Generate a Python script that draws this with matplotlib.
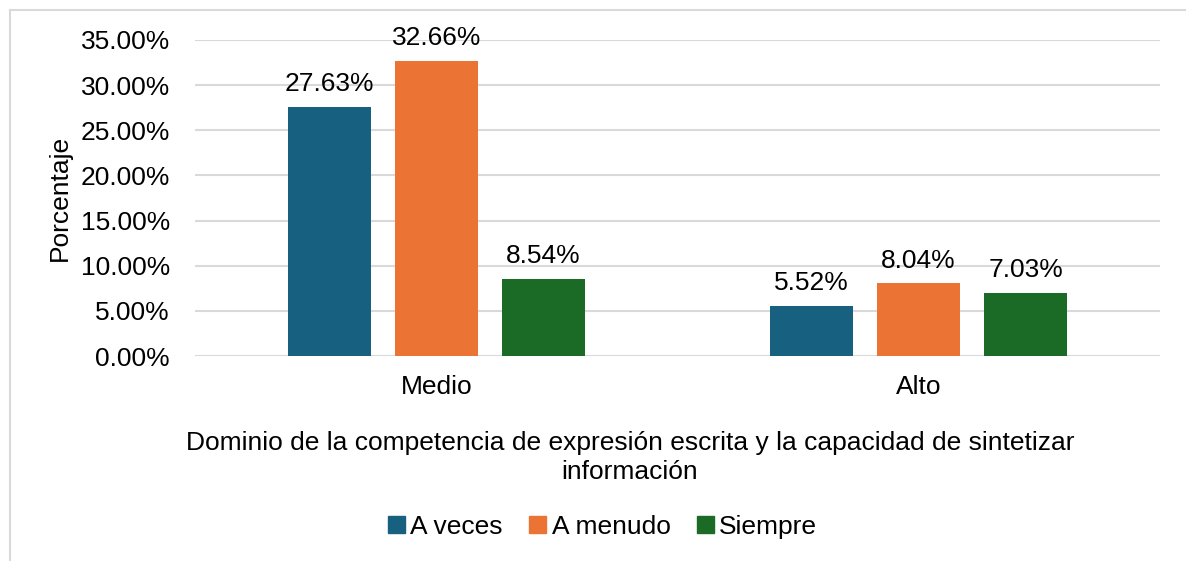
import matplotlib
matplotlib.use("Agg")
import numpy as np
from matplotlib import pyplot as plt
from matplotlib.lines import Line2D
from matplotlib.patches import Patch

categories = ["Medio", "Alto"]
series_names = ["A veces", "A menudo", "Siempre"]
a_veces = [27.63, 5.52]
a_menudo = [32.66, 8.04]
siempre = [8.54, 7.03]
yticks = [0, 5, 10, 15, 20, 25, 30, 35]

colors = ["#17607f", "#eb7333", "#1b6b27"]
fs = 19

plt.rcParams['font.family'] = ['Liberation Sans', 'DejaVu Sans']

fig = plt.figure(figsize=(11.86, 5.61), dpi=100)
ax = fig.add_axes([0.1644, 0.3654, 0.8136, 0.5633])

x = np.arange(len(categories))
w = 0.172
gap = 0.222
for i, (vals, name) in enumerate(zip([a_veces, a_menudo, siempre], series_names)):
    pos = x + (i - 1) * gap
    ax.bar(pos, vals, width=w, color=colors[i], zorder=3, label=name)
    for p, v in zip(pos, vals):
        ax.text(p, v + 1.2, "%.2f%%" % v, ha="center", va="bottom", fontsize=fs, color="#000000")

ax.set_xlim(-0.5, 1.5)
ax.set_ylim(0, 35)
ax.set_yticks(yticks)
ax.set_yticklabels(["%.2f%%" % t for t in yticks], fontsize=fs)
ax.set_xticks(x)
ax.set_xticklabels(categories, fontsize=fs)
ax.tick_params(axis='both', length=0)
ax.tick_params(axis='y', pad=18)
ax.tick_params(axis='x', pad=14)
ax.grid(axis='y', color='#d9d9d9', linewidth=1.5, zorder=0)
for s in ax.spines.values():
    s.set_visible(False)

ax.set_ylabel("Porcentaje", fontsize=fs, labelpad=6)
fig.text(0.531, 0.185, "Dominio de la competencia de expresión escrita y la capacidad de sintetizar\ninformación",
         ha="center", va="center", fontsize=fs, linespacing=1.25)

handles = [Patch(color=c) for c in colors]
fig.legend(handles, series_names, loc="center", bbox_to_anchor=(0.508, 0.061), ncol=3, frameon=False,
           fontsize=fs, handlelength=0.65, handleheight=0.65, handletextpad=0.2, columnspacing=1.0)

# outer chart frame (left and top only visible)
fig.add_artist(Line2D([0.0085, 0.0085], [0, 0.982], color='#d9d9d9', linewidth=1.5, transform=fig.transFigure))
fig.add_artist(Line2D([0.0085, 1.0], [0.982, 0.982], color='#d9d9d9', linewidth=1.5, transform=fig.transFigure))

plt.savefig("out.png", dpi=100)
